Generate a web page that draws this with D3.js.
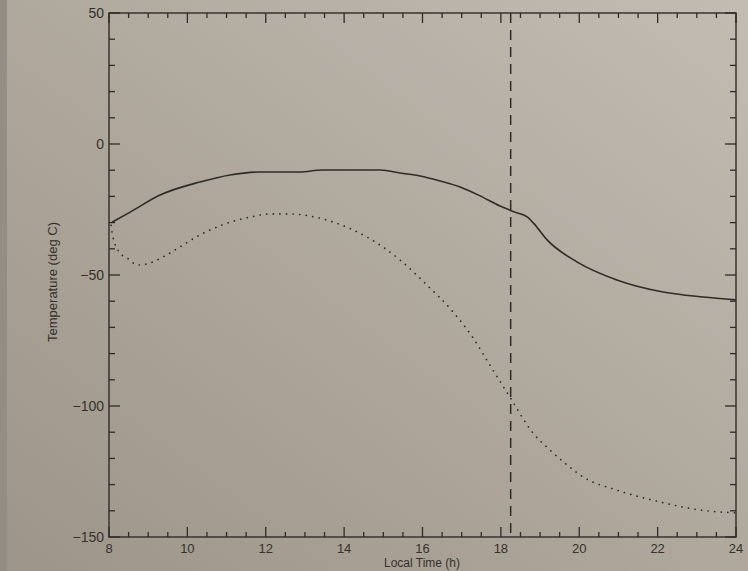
<!DOCTYPE html>
<html>
<head>
<meta charset="utf-8">
<script src="https://cdn.jsdelivr.net/npm/d3@7"></script>
<style>
  body { margin: 0; background: #a9a196; }
  svg { display: block; }
  text { font-family: "Liberation Sans", Arial, sans-serif; fill: #36312c; }
</style>
</head>
<body>
<svg id="chart"></svg>
<script>
const W = 748, H = 571;

// surface temperature (solid) and second series (dotted)
const solidHours = [8.08, 8.54, 9.3, 10.32, 11.09, 11.85, 12.87, 13.44, 14.92, 15.43, 15.94, 16.45, 16.96, 17.47, 17.98, 18.36, 18.69, 18.85, 19.18, 19.94, 20.96, 22.14, 23.16, 24.0];
const solidTemps = [-29.8, -26.0, -19.5, -14.5, -11.8, -10.7, -10.7, -9.9, -9.9, -11.1, -12.2, -14.1, -16.4, -19.8, -23.7, -26.0, -28.0, -30.5, -36.6, -45.0, -51.9, -56.5, -58.4, -59.5];

const dottedHours = [8.05, 8.1, 8.28, 8.46, 8.74, 9.05, 9.38, 9.81, 10.32, 10.96, 11.6, 12.11, 12.62, 13.13, 13.72, 14.58, 15.43, 16.11, 16.78, 17.29, 17.72, 18.23, 18.82, 19.25, 19.69, 20.1, 20.96, 22.06, 23.08, 24.0];
const dottedTemps = [-31, -35.5, -41.6, -43.5, -46.2, -45.4, -43.1, -39.3, -34.7, -30.5, -27.9, -26.7, -26.7, -27.5, -29.8, -35.5, -44.3, -53.8, -64.1, -74.0, -84.4, -96.6, -110.3, -116.8, -122.5, -127.1, -132.1, -136.6, -139.7, -140.8];

const markerHour = 18.25;

const xTicks = [8, 10, 12, 14, 16, 18, 20, 22, 24];
const yTicks = [-150, -100, -50, 0, 50];

const margin = { left: 109, right: 12, top: 13, bottom: 34 };

const svg = d3.select("#chart").attr("width", W).attr("height", H);

// paper background
const defs = svg.append("defs");
const grad = defs.append("linearGradient").attr("id", "paper")
  .attr("x1", "100%").attr("y1", "0%").attr("x2", "0%").attr("y2", "100%");
grad.append("stop").attr("offset", "0%").attr("stop-color", "#c2bcb2");
grad.append("stop").attr("offset", "55%").attr("stop-color", "#aea69b");
grad.append("stop").attr("offset", "100%").attr("stop-color", "#9d958a");
svg.append("rect").attr("width", W).attr("height", H).attr("fill", "url(#paper)");
svg.append("rect").attr("width", 7).attr("height", H).attr("fill", "#948d83");

const x = d3.scaleLinear().domain([8, 24]).range([margin.left, W - margin.right]);
const y = d3.scaleLinear().domain([-150, 50]).range([H - margin.bottom, margin.top]);

const ink = "#2f2b27";
const g = svg.append("g");

// frame
g.append("rect")
  .attr("x", x(8)).attr("y", y(50))
  .attr("width", x(24) - x(8)).attr("height", y(-150) - y(50))
  .attr("fill", "none").attr("stroke", ink).attr("stroke-width", 1.4);

// ticks on all four sides, pointing inward
const xMinor = d3.range(8, 24.01, 0.5);
const yMinor = d3.range(-150, 50.01, 10);
const tick = (x1, y1, x2, y2) => g.append("line")
  .attr("x1", x1).attr("y1", y1).attr("x2", x2).attr("y2", y2)
  .attr("stroke", ink).attr("stroke-width", 1.3);

xMinor.forEach(v => {
  const len = v % 2 === 0 ? 10 : 5;
  tick(x(v), y(-150), x(v), y(-150) - len);
  tick(x(v), y(50), x(v), y(50) + len);
});
yMinor.forEach(v => {
  const len = v % 50 === 0 ? 11 : 6;
  tick(x(8), y(v), x(8) + len, y(v));
  tick(x(24), y(v), x(24) - len, y(v));
});

// tick labels
g.selectAll(".xl").data(xTicks).enter().append("text")
  .attr("x", d => x(d)).attr("y", H - margin.bottom + 16)
  .attr("text-anchor", "middle").style("font-size", "13px")
  .text(d => d);

g.selectAll(".yl").data(yTicks).enter().append("text")
  .attr("x", x(8) - 5).attr("y", d => y(d) + 5)
  .attr("text-anchor", "end").style("font-size", "14px")
  .text(d => d < 0 ? "\u2212" + Math.abs(d) : d);

// axis titles
svg.append("text")
  .attr("x", 422).attr("y", H - 4)
  .attr("text-anchor", "middle").style("font-size", "12px")
  .text("Local Time (h)");

svg.append("text")
  .attr("transform", `translate(57, 282) rotate(-90)`)
  .attr("text-anchor", "middle").style("font-size", "13px")
  .text("Temperature (deg C)");

// curves
const line = d3.line().x(d => x(d[0])).y(d => y(d[1])).curve(d3.curveMonotoneX);

g.append("path")
  .datum(d3.zip(solidHours, solidTemps))
  .attr("d", line)
  .attr("fill", "none").attr("stroke", ink).attr("stroke-width", 1.6);

g.append("path")
  .datum(d3.zip(dottedHours, dottedTemps))
  .attr("d", line)
  .attr("fill", "none").attr("stroke", ink).attr("stroke-width", 1.7)
  .attr("stroke-linecap", "round").attr("stroke-dasharray", "0.1 6.5");

// vertical dashed marker
g.append("line")
  .attr("x1", x(markerHour)).attr("x2", x(markerHour))
  .attr("y1", y(50)).attr("y2", y(-150))
  .attr("stroke", ink).attr("stroke-width", 1.5)
  .attr("stroke-dasharray", "10 7");
</script>
</body>
</html>
